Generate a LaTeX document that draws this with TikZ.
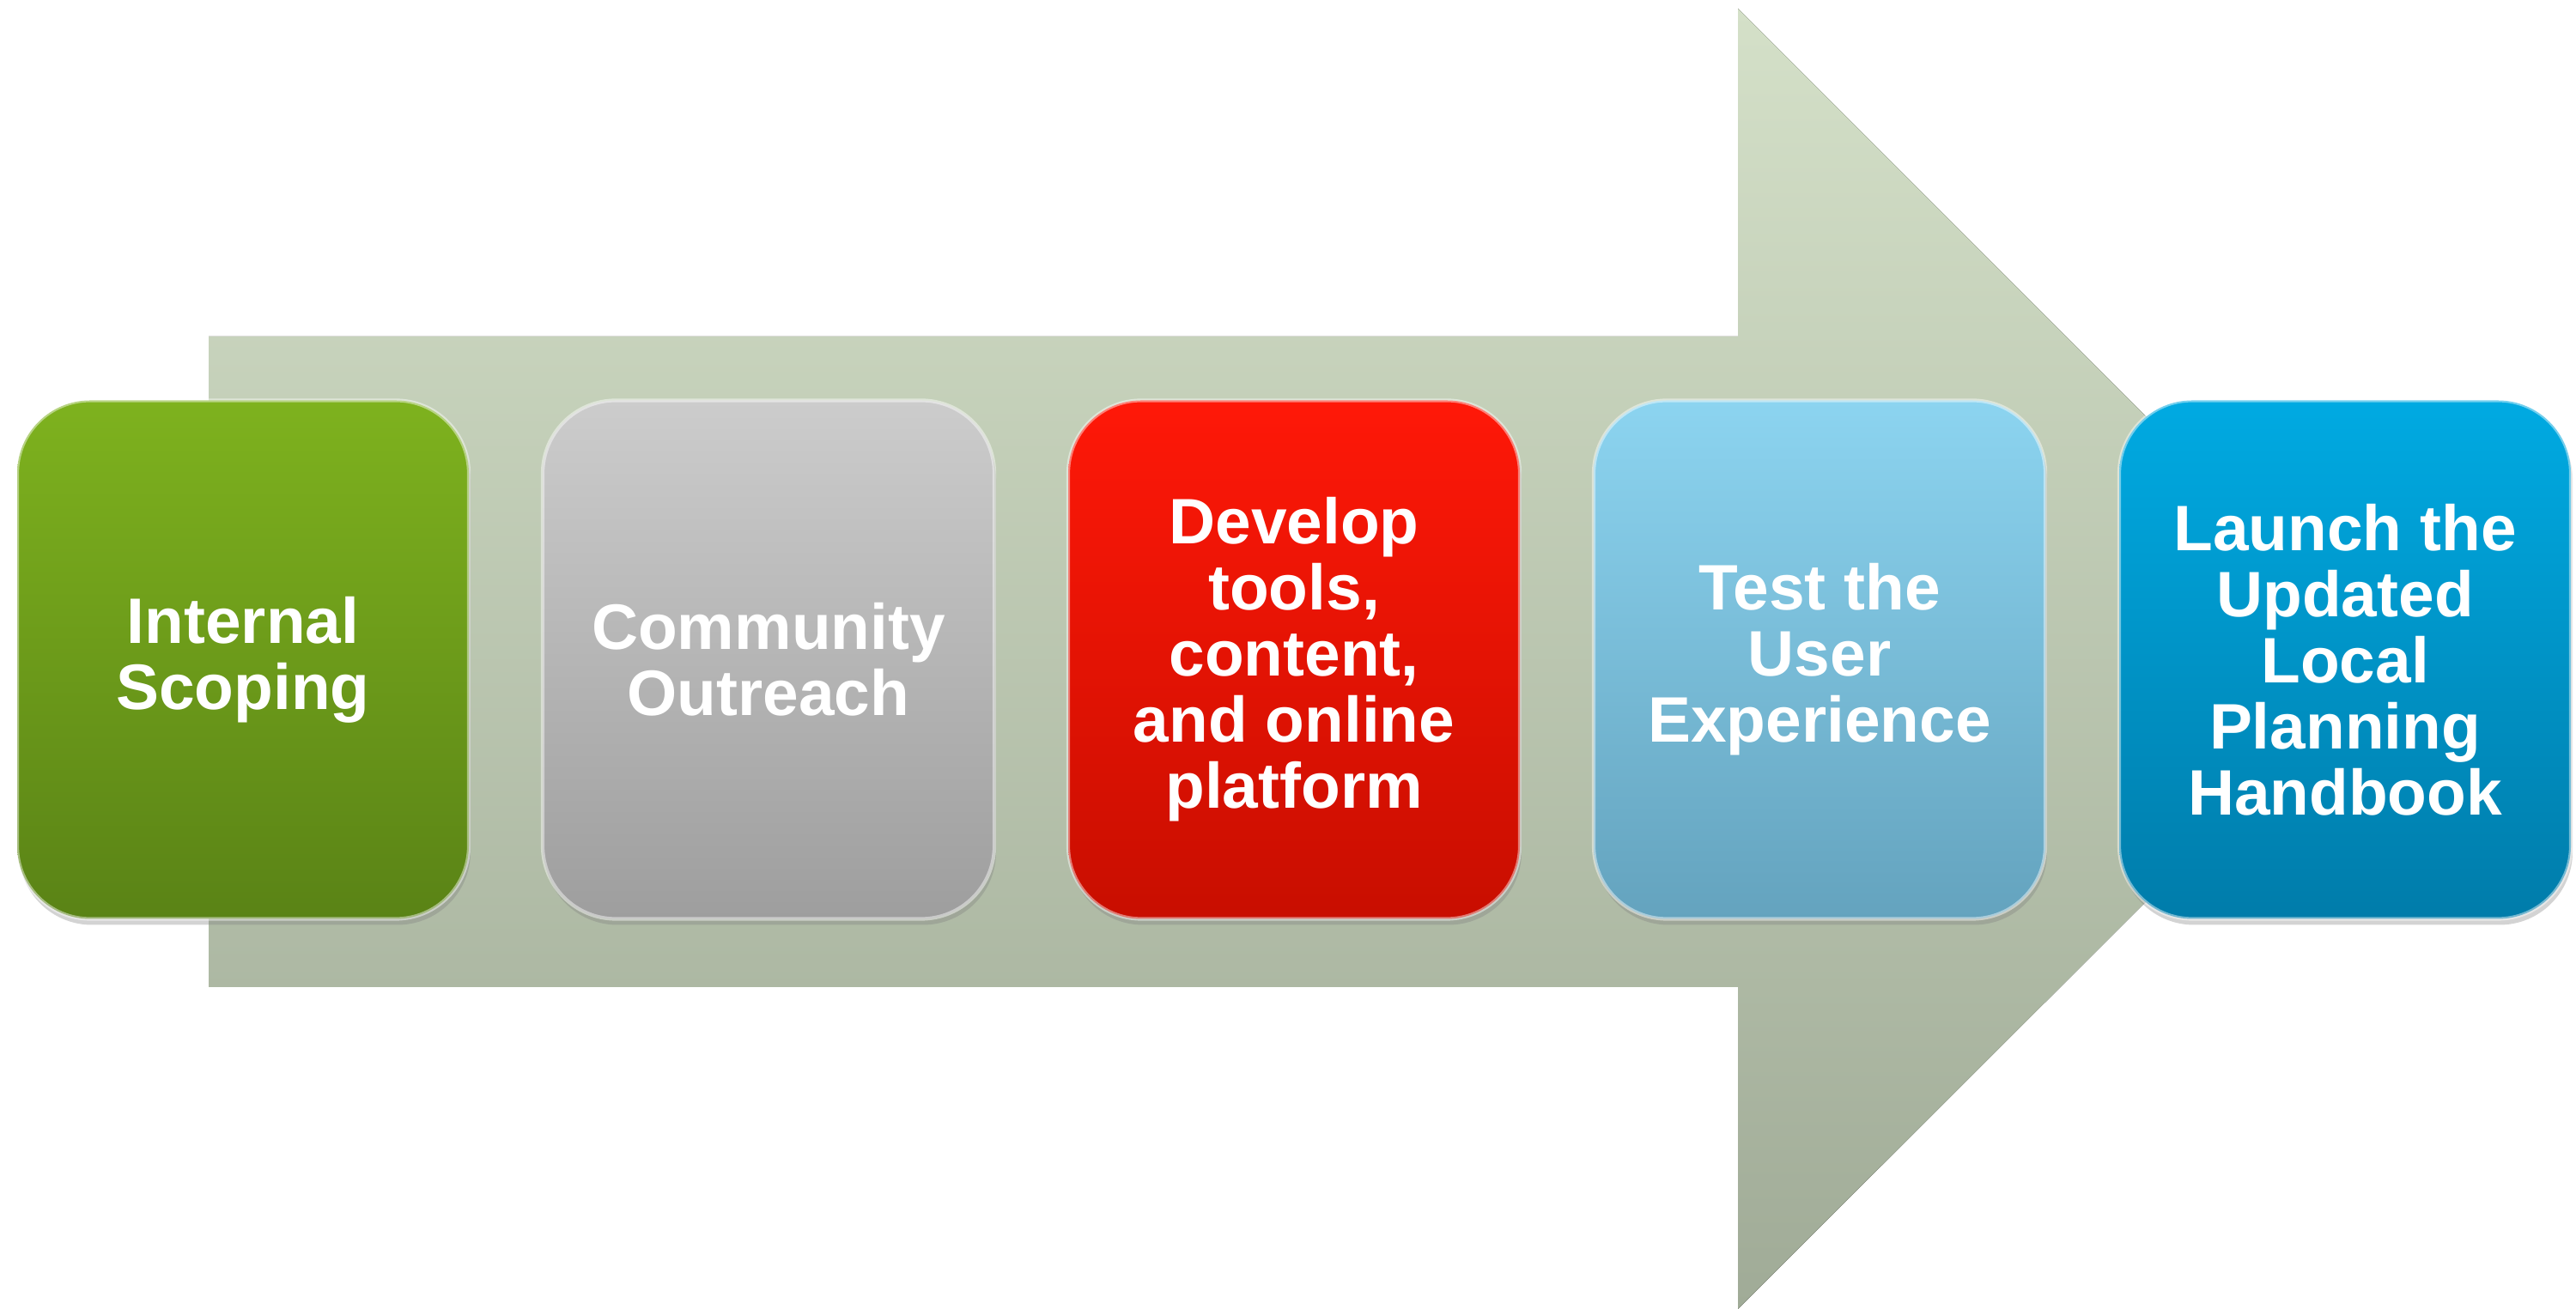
\documentclass[tikz,border=0pt]{standalone}
\usepackage{fontspec}
\setmainfont{Liberation Sans}
\usetikzlibrary{positioning, shadows}
\definecolor{arrowtop}{RGB}{212,224,200}
\definecolor{arrowbot}{RGB}{160,171,151}
\definecolor{greentop}{RGB}{126,178,30}
\definecolor{greenbot}{RGB}{90,131,22}
\definecolor{greytop}{RGB}{204,204,204}
\definecolor{greybot}{RGB}{158,158,158}
\definecolor{redtop}{RGB}{255,24,8}
\definecolor{redbot}{RGB}{200,14,0}
\definecolor{skytop}{RGB}{140,212,240}
\definecolor{skybot}{RGB}{100,163,190}
\definecolor{bluetop}{RGB}{0,170,226}
\definecolor{bluebot}{RGB}{0,124,170}
\tikzset{
    node distance=6.12cm, % center to center distance of two steps
    stepbox/.style={rounded corners=0.85cm, minimum width=5.26cm, minimum height=6.04cm,
        draw=white, draw opacity=0.45, line width=1.2pt, % light glossy rim
        drop shadow={shadow xshift=0.02cm, shadow yshift=-0.07cm, opacity=0.35},
        text=white, align=center, font=\bfseries\fontsize{21.3}{21.9}\selectfont},
    green step/.style={stepbox, top color=greentop, bottom color=greenbot},
    grey step/.style={stepbox, top color=greytop, bottom color=greybot},
    red step/.style={stepbox, top color=redtop, bottom color=redbot},
    sky step/.style={stepbox, top color=skytop, bottom color=skybot},
    blue step/.style={stepbox, top color=bluetop, bottom color=bluebot},
}
\begin{document}
\begin{tikzpicture}
    \useasboundingbox (0,0) rectangle (30,15.25);

    % big arrow behind the steps
    \fill[top color=arrowtop, bottom color=arrowbot]
        (2.43,11.33) -- (20.24,11.33) -- (20.24,15.15) -- (27.82,7.57)
        -- (20.24,0) -- (20.24,3.75) -- (2.43,3.75) -- cycle;

    \node[green step] (scoping) at (2.83,7.565) {Internal\\Scoping};
    \node[grey step, right of=scoping] (outreach) {Community\\Outreach};
    \node[red step, right of=outreach] (develop) {Develop\\tools,\\content,\\and online\\platform};
    \node[sky step, right of=develop] (test) {Test the\\User\\Experience};
    \node[blue step, right of=test] (launch) {Launch the\\Updated\\Local\\Planning\\Handbook};
\end{tikzpicture}
\end{document}
